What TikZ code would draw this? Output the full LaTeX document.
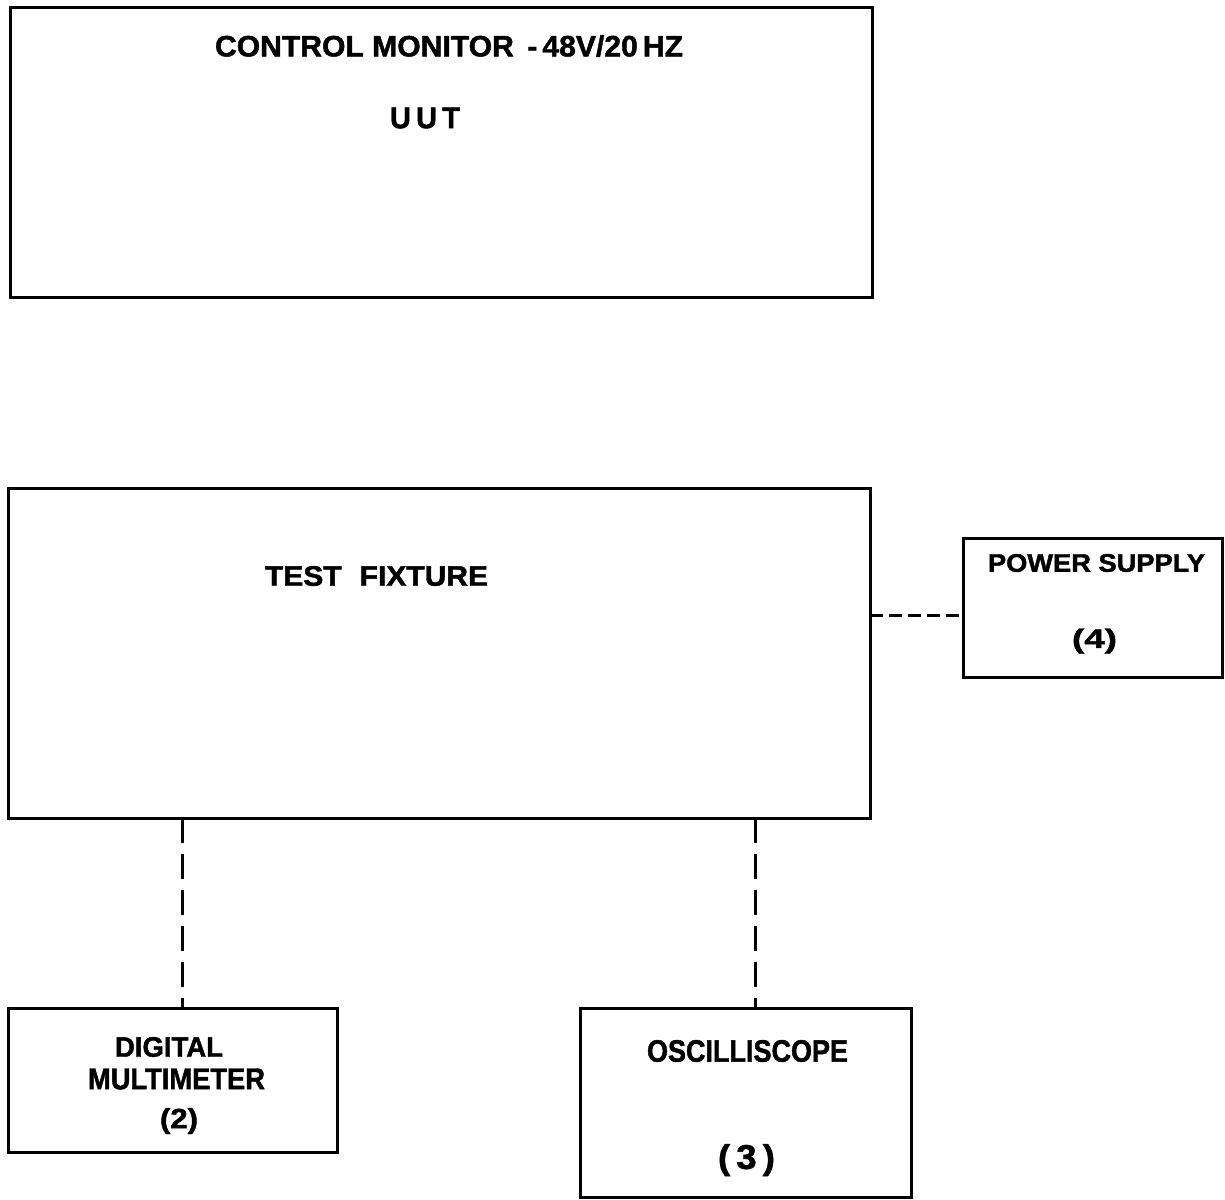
\documentclass[tikz,border=0pt]{standalone}
\usepackage{fontspec}
\setmainfont{Liberation Sans}[BoldFeatures={FakeBold=1.5}]
\usepackage{graphicx}
\newcommand\fitlab[3]{\resizebox*{#1pt}{#2pt}{\bfseries #3}}
\begin{document}
\begin{tikzpicture}[x=1pt,y=-1pt,
  box/.style={draw, line width=3pt, inner sep=0pt, outer sep=0pt},
  lab/.style={inner sep=0pt, outer sep=0pt, anchor=center},
  vdash/.style={line width=3pt, dash pattern=on 25pt off 11pt},
  hdash/.style={line width=3pt, dash pattern=on 13pt off 6pt}]
\useasboundingbox[fill=white] (0,0) rectangle (1225,1199);
% boxes
\node[box, minimum width=862pt, minimum height=289pt] (uut) at (441,152.5) {};
\node[box, minimum width=862pt, minimum height=330pt] (tf) at (439,653) {};
\node[box, minimum width=259pt, minimum height=139pt] (ps) at (1092.5,607.5) {};
\node[box, minimum width=329pt, minimum height=144pt] (dmm) at (172.5,1080) {};
\node[box, minimum width=331pt, minimum height=189pt] (osc) at (745.5,1102.5) {};
% labels
\node[lab] (uutA) at (449,46) {\fitlab{468}{22}{CONTROL MONITOR\hspace{0.45em}-\,48V/20\,HZ}};
\node[lab] (uutB) at (425,118) {\fitlab{70}{21}{U\hspace{0.18em}U\hspace{0.18em}T}};
\node[lab] (tfA) at (376.5,576) {\fitlab{223}{20}{TEST\hspace{0.6em}FIXTURE}};
\node[lab] (psA) at (1096.5,563) {\fitlab{217}{18}{POWER SUPPLY}};
\node[lab] (psB) at (1094.5,641) {\fitlab{45}{25}{(4)}};
\node[lab] (dmmA) at (169,1047) {\fitlab{108}{20}{DIGITAL}};
\node[lab] (dmmB) at (176.5,1079) {\fitlab{177}{21}{MULTIMETER}};
\node[lab] (dmmC) at (179,1121) {\fitlab{38}{26}{(2)}};
\node[lab] (oscA) at (747.5,1051) {\fitlab{201}{22}{OSCILLISCOPE}};
\node[lab] (oscB) at (746.5,1160) {\fitlab{57}{32}{(\,3\,)}};
% connectors
\coordinate (pse) at ([yshift=-7.5pt]ps.west);
\coordinate (dmmtop) at ([xshift=9.5pt]dmm.north);
\coordinate (osctop) at ([xshift=9.5pt]osc.north);
\draw[hdash] (pse -| tf.east) -- (pse);
\draw[vdash] (dmmtop |- tf.south) -- (dmmtop);
\draw[vdash] (osctop |- tf.south) -- (osctop);
\end{tikzpicture}
\end{document}
